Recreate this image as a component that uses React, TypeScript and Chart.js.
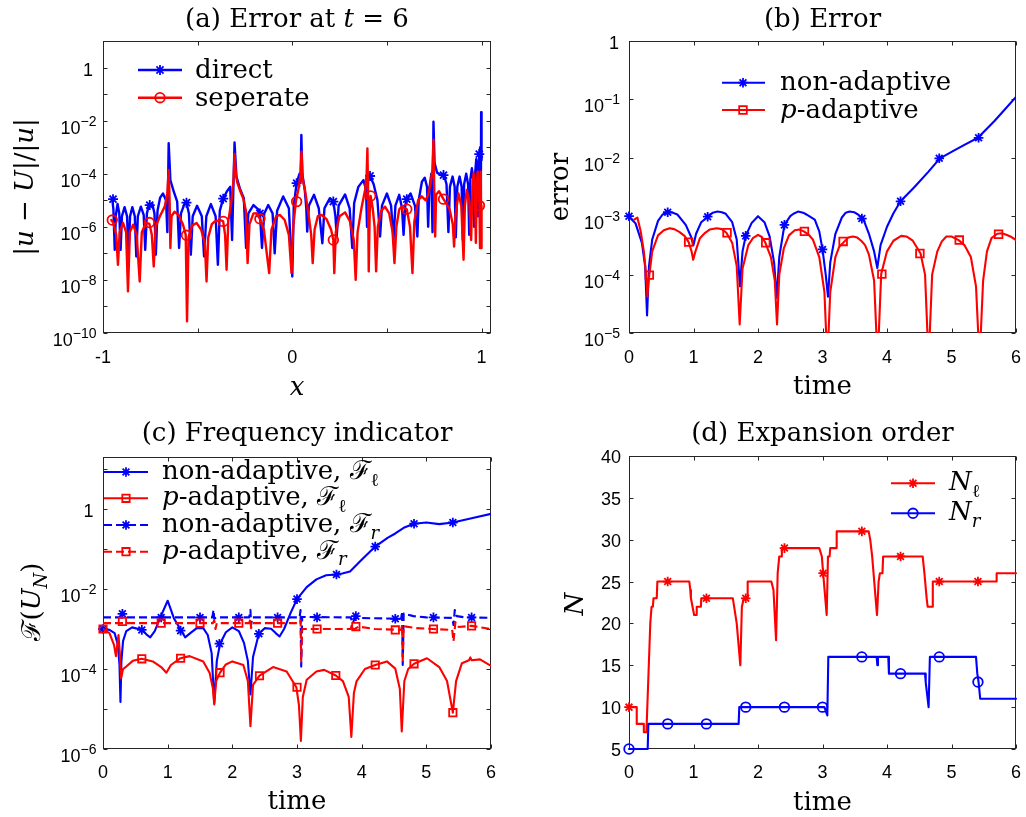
import React, { useEffect, useRef } from 'react';
import { Chart, registerables } from 'chart.js';
import { drawPoint } from 'chart.js/helpers';

Chart.register(...registerables);

const W = 1026;
const H = 817;
const BLUE = '#0000ff';
const RED = '#ff0000';
const AXIS = '#262626';
const SERIF = '"DejaVu Serif", "Liberation Serif", serif';
const SANS = '"Liberation Sans", Arial, sans-serif';

type P = [number, number];

// ---------------- Panel (a): error at t = 6 ----------------
const aXTicks = [-1, -0.5, 0, 0.5, 1];
const aXLabels = ['-1', '', '0', '', '1'];
const aYTicks = [1e-10, 1e-9, 1e-8, 1e-7, 1e-6, 1e-5, 1e-4, 1e-3, 1e-2, 1e-1, 1, 10];
const aYLabels = ['10^-10', '', '10^-8', '', '10^-6', '', '10^-4', '', '10^-2', '', '1', ''];

const aDirect: P[] = [
  [-0.951, 1.1e-5], [-0.945, 4.5e-6], [-0.938, 1.35e-7], [-0.932, 2.8e-6], [-0.923, 7.2e-6], [-0.914, 3.2e-6],
  [-0.907, 1.35e-7], [-0.9, 2.5e-6], [-0.886, 5.5e-6], [-0.873, 2.5e-6], [-0.865, 1.0e-7], [-0.857, 2.5e-6],
  [-0.845, 5.5e-6], [-0.832, 2.5e-6], [-0.824, 7.6e-8], [-0.816, 2.5e-6], [-0.8, 5.75e-6], [-0.785, 2.8e-6],
  [-0.777, 1.35e-7], [-0.768, 3.2e-6], [-0.757, 6.6e-6], [-0.74, 7.6e-6], [-0.728, 3.2e-6], [-0.721, 8.9e-8],
  [-0.712, 4.0e-6], [-0.698, 1.26e-5], [-0.683, 1.8e-5], [-0.667, 1.0e-5], [-0.66, 6.3e-7], [-0.653, 1.4e-3],
  [-0.644, 5.75e-5], [-0.626, 2.1e-5], [-0.608, 8.9e-6], [-0.598, 1.6e-7], [-0.588, 3.2e-6], [-0.57, 7.2e-6],
  [-0.559, 8.1e-6], [-0.546, 3.2e-6], [-0.536, 8.9e-8], [-0.526, 2.5e-6], [-0.503, 6.2e-6], [-0.478, 2.5e-6],
  [-0.466, 7.6e-8], [-0.454, 2.5e-6], [-0.43, 7.2e-6], [-0.405, 2.5e-6], [-0.393, 3.7e-8], [-0.383, 4.0e-6],
  [-0.365, 1.15e-5], [-0.345, 2.2e-5], [-0.328, 3.2e-5], [-0.318, 3.2e-7], [-0.305, 1.5e-3], [-0.295, 7.8e-5],
  [-0.277, 2.8e-5], [-0.256, 1.2e-5], [-0.244, 1.6e-7], [-0.232, 3.2e-6], [-0.205, 6.6e-6], [-0.18, 4.5e-6],
  [-0.171, 3.2e-6], [-0.16, 1.6e-7], [-0.148, 3.2e-6], [-0.127, 6.6e-6], [-0.104, 3.2e-6], [-0.093, 1.0e-7],
  [-0.08, 4.0e-6], [-0.048, 1.4e-5], [-0.018, 5.0e-6], [0.0, 1.35e-8], [0.008, 6.3e-6], [0.023, 4.4e-5],
  [0.038, 1.0e-4], [0.044, 5.0e-5], [0.048, 2.9e-3], [0.053, 1.0e-4], [0.066, 2.5e-5], [0.074, 5.0e-6],
  [0.079, 6.6e-7], [0.088, 6.3e-6], [0.115, 1.6e-5], [0.14, 5.0e-6], [0.159, 2.4e-7], [0.17, 5.0e-6],
  [0.199, 1.2e-5], [0.217, 8.9e-6], [0.228, 2.5e-6], [0.235, 4.3e-7], [0.245, 6.3e-6], [0.279, 1.66e-5],
  [0.303, 5.0e-6], [0.317, 1.6e-7], [0.327, 7.9e-6], [0.349, 3.2e-5], [0.376, 5.75e-5], [0.39, 2.5e-5],
  [0.395, 1.0e-6], [0.401, 7.9e-5], [0.411, 8.1e-5], [0.43, 4.0e-5], [0.45, 1.0e-5], [0.464, 4.3e-7],
  [0.474, 6.3e-6], [0.5, 1.8e-5], [0.522, 6.3e-6], [0.535, 3.2e-7], [0.545, 6.3e-6], [0.565, 1.6e-5],
  [0.58, 5.0e-6], [0.588, 5.0e-7], [0.597, 6.3e-6], [0.605, 1.1e-5], [0.625, 1.8e-5], [0.648, 6.3e-6],
  [0.661, 4.3e-7], [0.668, 1.0e-5], [0.685, 5.0e-5], [0.7, 7.1e-5], [0.712, 3.2e-5], [0.718, 1.0e-6],
  [0.724, 2.5e-5], [0.735, 1.0e-4], [0.741, 6.3e-7], [0.746, 9.1e-3], [0.752, 2.5e-4], [0.765, 1.1e-4],
  [0.785, 8.9e-5], [0.802, 8.9e-5], [0.815, 4.0e-5], [0.825, 6.3e-7], [0.833, 3.2e-5], [0.847, 7.8e-5],
  [0.858, 3.2e-5], [0.864, 4.0e-7], [0.872, 3.2e-5], [0.884, 7.8e-5], [0.895, 3.2e-5], [0.901, 3.2e-7],
  [0.908, 4.0e-5], [0.919, 1.0e-4], [0.929, 4.0e-5], [0.935, 5.0e-7], [0.941, 6.3e-5], [0.949, 1.6e-4],
  [0.956, 6.3e-5], [0.961, 1.0e-6], [0.966, 1.0e-4], [0.972, 3.5e-4], [0.977, 1.26e-4], [0.981, 2.5e-6],
  [0.985, 2.5e-4], [0.988, 5.5e-4], [0.993, 1.0e-3], [0.996, 3.2e-6], [0.998, 2.1e-2], [1.0, 3.2e-4],
];
const aDirectMarks: P[] = [
  [-0.947, 1.1e-5], [-0.753, 6.6e-6], [-0.559, 8.1e-6], [-0.365, 1.15e-5], [-0.171, 3.2e-6], [0.023, 4.4e-5],
  [0.217, 8.9e-6], [0.411, 8.2e-5], [0.605, 1.1e-5], [0.799, 8.9e-5], [0.988, 5.5e-4],
];
const aSeperate: P[] = [
  [-0.956, 1.8e-6], [-0.945, 1.4e-6], [-0.93, 5.0e-7], [-0.921, 3.7e-8], [-0.912, 6.3e-7], [-0.894, 1.4e-6],
  [-0.878, 6.3e-7], [-0.868, 3.7e-9], [-0.858, 6.3e-7], [-0.841, 1.2e-6], [-0.822, 5.0e-7], [-0.806, 8.7e-9],
  [-0.795, 6.3e-7], [-0.772, 1.45e-6], [-0.755, 1.3e-6], [-0.742, 5.0e-7], [-0.732, 3.2e-8], [-0.722, 1.0e-6],
  [-0.7, 2.45e-6], [-0.674, 5.75e-6], [-0.66, 1.8e-5], [-0.653, 1.4e-4], [-0.648, 1.0e-5], [-0.644, 1.6e-7],
  [-0.638, 2.5e-6], [-0.622, 3.7e-6], [-0.6, 2.8e-6], [-0.578, 1.26e-6], [-0.563, 5.0e-7], [-0.556, 2.75e-10],
  [-0.548, 4.0e-7], [-0.53, 1.1e-6], [-0.506, 1.4e-6], [-0.482, 7.9e-7], [-0.462, 2.5e-7], [-0.453, 8.7e-9],
  [-0.444, 4.0e-7], [-0.425, 1.26e-6], [-0.409, 1.6e-6], [-0.38, 1.8e-6], [-0.365, 1.6e-6], [-0.355, 5.0e-7],
  [-0.347, 2.4e-8], [-0.338, 1.6e-6], [-0.321, 1.0e-5], [-0.31, 6.3e-5], [-0.305, 5.5e-4], [-0.298, 1.0e-4],
  [-0.29, 4.5e-5], [-0.277, 2.45e-5], [-0.258, 1.1e-5], [-0.245, 4.0e-6], [-0.236, 4.3e-8], [-0.226, 1.26e-6],
  [-0.205, 3.2e-6], [-0.189, 3.2e-6], [-0.171, 2.0e-6], [-0.15, 7.9e-7], [-0.122, 1.8e-8], [-0.11, 7.9e-7],
  [-0.085, 2.5e-6], [-0.065, 2.8e-6], [-0.04, 1.8e-6], [-0.018, 5.0e-7], [-0.004, 1.8e-8], [0.005, 1.0e-6],
  [0.019, 8.9e-6], [0.035, 3.2e-5], [0.044, 1.0e-4], [0.049, 6.8e-4], [0.055, 6.3e-5], [0.067, 2.45e-5],
  [0.09, 1.8e-6], [0.1, 5.0e-7], [0.108, 4.3e-8], [0.118, 7.9e-7], [0.135, 2.5e-6], [0.155, 2.8e-6],
  [0.18, 2.0e-6], [0.205, 7.9e-7], [0.217, 3.2e-7], [0.222, 1.8e-8], [0.23, 6.3e-7], [0.25, 2.5e-6],
  [0.279, 3.5e-6], [0.305, 1.6e-6], [0.325, 3.2e-7], [0.335, 1.0e-8], [0.345, 6.3e-7], [0.367, 5.75e-6],
  [0.385, 2.5e-5], [0.393, 1.0e-4], [0.397, 8.9e-4], [0.401, 1.0e-5], [0.404, 2.1e-8], [0.409, 3.2e-6],
  [0.414, 1.45e-5], [0.425, 5.0e-6], [0.435, 1.0e-6], [0.443, 2.1e-8], [0.452, 1.0e-6], [0.47, 4.0e-6],
  [0.49, 5.75e-6], [0.512, 3.2e-6], [0.53, 6.3e-7], [0.54, 4.3e-8], [0.55, 1.0e-6], [0.565, 4.5e-6],
  [0.578, 5.75e-6], [0.605, 4.6e-6], [0.622, 1.0e-6], [0.635, 1.8e-8], [0.645, 1.6e-6], [0.665, 1.0e-5],
  [0.684, 1.4e-5], [0.705, 1.0e-5], [0.718, 1.6e-5], [0.73, 4.0e-5], [0.74, 1.26e-4], [0.746, 1.9e-3],
  [0.751, 1.0e-5], [0.755, 4.3e-7], [0.76, 1.6e-5], [0.775, 2.2e-5], [0.799, 1.1e-5], [0.83, 5.0e-6],
  [0.848, 1.26e-6], [0.855, 1.8e-7], [0.862, 2.5e-6], [0.878, 1.8e-5], [0.893, 6.3e-6], [0.905, 5.75e-8],
  [0.912, 6.3e-6], [0.922, 2.45e-5], [0.935, 1.0e-5], [0.945, 3.2e-7], [0.952, 3.2e-5], [0.958, 1.05e-4],
  [0.965, 2.5e-5], [0.97, 2.5e-7], [0.975, 5.0e-5], [0.98, 1.2e-4], [0.985, 3.2e-5], [0.989, 6.3e-6],
  [0.992, 1.6e-7], [0.995, 6.3e-5], [0.997, 1.2e-4], [0.999, 1.6e-7], [1.0, 6.3e-6],
];
const aSeperateMarks: P[] = [
  [-0.951, 1.8e-6], [-0.755, 1.45e-6], [-0.559, 4.8e-7], [-0.365, 1.6e-6], [-0.171, 2.0e-6], [0.023, 8.9e-6],
  [0.217, 3.2e-7], [0.414, 1.45e-5], [0.605, 4.6e-6], [0.799, 1.1e-5], [0.989, 6.3e-6],
];

// ---------------- Panel (b): error vs time ----------------
const timeTicks = [0, 1, 2, 3, 4, 5, 6];
const timeLabels = ['0', '1', '2', '3', '4', '5', '6'];
const bYTicks = [1e-5, 1e-4, 1e-3, 1e-2, 1e-1, 1];
const bYLabels = ['10^-5', '10^-4', '10^-3', '10^-2', '10^-1', '1'];

const bNonAdaptive: P[] = [
  [0, 9.8e-4], [0.1, 7.6e-4], [0.2, 3.5e-4], [0.25, 1.4e-4], [0.28, 2.0e-5], [0.31, 1.4e-4], [0.36, 4.0e-4],
  [0.45, 8.3e-4], [0.52, 1.07e-3], [0.6, 1.17e-3], [0.68, 1.15e-3], [0.75, 1.07e-3], [0.88, 7.1e-4],
  [0.96, 4.5e-4], [1.0, 3.2e-4], [1.04, 5.0e-4], [1.12, 7.9e-4], [1.22, 9.8e-4], [1.3, 1.15e-3], [1.37, 1.2e-3],
  [1.44, 1.17e-3], [1.5, 1.1e-3], [1.6, 7.9e-4], [1.67, 4.0e-4], [1.72, 6.3e-5], [1.76, 2.5e-4], [1.81, 4.6e-4],
  [1.9, 7.6e-4], [2.0, 1.0e-3], [2.1, 7.9e-4], [2.18, 4.5e-4], [2.25, 1.6e-4], [2.29, 4.0e-5], [2.33, 2.0e-4],
  [2.41, 7.1e-4], [2.5, 1.0e-3], [2.55, 1.1e-3], [2.62, 1.2e-3], [2.7, 1.15e-3], [2.75, 1.07e-3], [2.88, 8.7e-4],
  [2.95, 5.5e-4], [3.0, 2.7e-4], [3.05, 1.0e-4], [3.085, 4.2e-5], [3.12, 1.6e-4], [3.2, 5.0e-4], [3.3, 9.5e-4],
  [3.36, 1.15e-3], [3.42, 1.2e-3], [3.49, 1.17e-3], [3.55, 1.07e-3], [3.63, 9.1e-4], [3.72, 5.0e-4],
  [3.8, 2.5e-4], [3.85, 1.3e-4], [3.9, 3.2e-4], [4.0, 6.6e-4], [4.1, 1.12e-3], [4.21, 1.8e-3], [4.43, 3.2e-3],
  [4.64, 5.75e-3], [4.82, 9.8e-3], [5.05, 1.35e-2], [5.2, 1.66e-2], [5.41, 2.2e-2], [5.67, 4.3e-2], [6.0, 1.1e-1],
];
const bNonAdaptiveMarks: P[] = [
  [0, 1.0e-3], [0.6, 1.17e-3], [1.22, 9.8e-4], [1.81, 4.6e-4], [2.41, 7.1e-4], [3.0, 2.7e-4], [3.61, 9.1e-4],
  [4.21, 1.8e-3], [4.81, 9.8e-3], [5.42, 2.2e-2],
];
const bPAdaptive: P[] = [
  [0.08, 8.7e-4], [0.13, 9.5e-4], [0.18, 5.6e-4], [0.23, 2.5e-4], [0.265, 1.0e-4], [0.285, 4.2e-5], [0.3, 7.1e-5],
  [0.315, 9.8e-5], [0.36, 2.5e-4], [0.45, 4.7e-4], [0.54, 5.75e-4], [0.63, 6.2e-4], [0.7, 6.0e-4], [0.78, 5.4e-4],
  [0.86, 4.6e-4], [0.925, 3.6e-4], [0.97, 2.5e-4], [0.995, 1.8e-4], [1.03, 2.5e-4], [1.1, 4.2e-4], [1.18, 5.2e-4],
  [1.25, 5.9e-4], [1.36, 6.2e-4], [1.44, 6.0e-4], [1.51, 5.2e-4], [1.6, 3.5e-4], [1.67, 1.4e-4], [1.716, 1.4e-5],
  [1.76, 1.26e-4], [1.85, 3.2e-4], [1.92, 4.2e-4], [2.0, 4.8e-4], [2.06, 4.4e-4], [2.115, 3.5e-4], [2.2, 2.0e-4],
  [2.26, 7.9e-5], [2.295, 1.4e-5], [2.33, 1.0e-4], [2.4, 2.8e-4], [2.48, 4.7e-4], [2.57, 5.75e-4], [2.64, 5.9e-4],
  [2.71, 5.5e-4], [2.78, 4.9e-4], [2.85, 4.0e-4], [2.95, 2.0e-4], [3.03, 5.0e-5], [3.075, 3.2e-6], [3.12, 5.0e-5],
  [3.2, 2.0e-4], [3.26, 3.0e-4], [3.33, 3.6e-4], [3.4, 4.3e-4], [3.47, 4.5e-4], [3.54, 4.3e-4], [3.6, 3.8e-4],
  [3.66, 3.2e-4], [3.72, 2.2e-4], [3.8, 7.9e-5], [3.855, 3.2e-6], [3.91, 1.02e-4], [4.0, 2.5e-4], [4.1, 3.8e-4],
  [4.22, 4.6e-4], [4.3, 4.5e-4], [4.4, 3.8e-4], [4.52, 2.3e-4], [4.59, 1.0e-4], [4.645, 3.2e-6], [4.7, 1.0e-4],
  [4.78, 2.5e-4], [4.85, 3.7e-4], [4.92, 4.5e-4], [5.0, 4.5e-4], [5.11, 3.9e-4], [5.2, 3.2e-4], [5.3, 2.0e-4],
  [5.38, 6.3e-5], [5.435, 3.2e-6], [5.49, 7.9e-5], [5.55, 2.5e-4], [5.62, 4.2e-4], [5.71, 5.0e-4], [5.78, 5.1e-4],
  [5.85, 4.8e-4], [5.93, 4.4e-4], [6.0, 3.9e-4],
];
const bPAdaptiveMarks: P[] = [
  [0.315, 9.8e-5], [0.925, 3.6e-4], [1.52, 5.2e-4], [2.12, 3.5e-4], [2.72, 5.5e-4], [3.32, 3.7e-4],
  [3.92, 1.02e-4], [4.51, 2.3e-4], [5.12, 3.9e-4], [5.73, 4.9e-4],
];

// ---------------- Panel (c): frequency indicator ----------------
const cYTicks = [1e-6, 1e-5, 1e-4, 1e-3, 1e-2, 1e-1, 1, 10];
const cYLabels = ['10^-6', '', '10^-4', '', '10^-2', '', '1', ''];

const cNonAdaptiveL: P[] = [
  [0, 1.0e-3], [0.1, 9.5e-4], [0.18, 7.9e-4], [0.23, 4.0e-4], [0.255, 1.26e-4], [0.27, 1.5e-5], [0.285, 1.6e-4],
  [0.31, 5.0e-4], [0.36, 8.9e-4], [0.45, 1.1e-3], [0.61, 9.5e-4], [0.68, 7.1e-4], [0.73, 6.2e-4], [0.8, 8.9e-4],
  [0.9, 2.2e-3], [1.0, 5.1e-3], [1.1, 1.8e-3], [1.21, 9.1e-4], [1.27, 6.2e-4], [1.35, 7.9e-4], [1.45, 1.05e-3],
  [1.55, 1.05e-3], [1.62, 7.1e-4], [1.68, 2.5e-4], [1.72, 1.4e-5], [1.76, 1.6e-4], [1.81, 4.3e-4], [1.9, 8.3e-4],
  [2.0, 1.1e-3], [2.1, 8.9e-4], [2.18, 4.5e-4], [2.24, 1.6e-4], [2.28, 2.3e-5], [2.32, 2.0e-4], [2.41, 7.6e-4],
  [2.5, 1.05e-3], [2.6, 1.02e-3], [2.67, 7.9e-4], [2.73, 6.5e-4], [2.8, 1.0e-3], [2.9, 2.5e-3], [3.0, 5.6e-3],
  [3.15, 1.12e-2], [3.3, 1.74e-2], [3.45, 2.2e-2], [3.61, 2.3e-2], [3.7, 2.45e-2], [3.82, 2.75e-2], [4.0, 5.4e-2],
  [4.21, 1.15e-1], [4.4, 1.9e-1], [4.52, 2.45e-1], [4.65, 3.4e-1], [4.81, 4.3e-1], [5.0, 4.6e-1], [5.2, 4.2e-1],
  [5.41, 4.6e-1], [5.7, 5.9e-1], [6.0, 7.6e-1],
];
const cNonAdaptiveLMarks: P[] = [
  [0, 1.0e-3], [0.6, 9.5e-4], [1.2, 9.1e-4], [1.8, 4.3e-4], [2.41, 7.6e-4], [3.0, 5.6e-3], [3.61, 2.3e-2],
  [4.21, 1.15e-1], [4.81, 4.3e-1], [5.41, 4.6e-1],
];
const cPAdaptiveL: P[] = [
  [0, 1.0e-3], [0.1, 7.9e-4], [0.17, 4.0e-4], [0.2, 2.1e-4], [0.22, 4.0e-4], [0.24, 7.1e-4], [0.26, 2.5e-4],
  [0.28, 5.9e-5], [0.31, 1.0e-4], [0.36, 1.15e-4], [0.46, 1.6e-4], [0.6, 1.8e-4], [0.77, 1.55e-4], [0.9, 1.12e-4],
  [0.98, 8.1e-5], [1.05, 1.26e-4], [1.2, 1.86e-4], [1.34, 2.1e-4], [1.55, 1.55e-4], [1.65, 7.9e-5], [1.7, 3.2e-5],
  [1.72, 1.3e-5], [1.75, 5.0e-5], [1.81, 8.1e-5], [1.9, 1.3e-4], [2.0, 1.55e-4], [2.17, 1.26e-4], [2.24, 5.0e-5],
  [2.28, 3.7e-6], [2.32, 4.0e-5], [2.42, 6.8e-5], [2.63, 1.12e-4], [2.84, 8.7e-5], [2.99, 3.5e-5], [3.03, 1.26e-5],
  [3.06, 1.6e-6], [3.09, 2.0e-5], [3.15, 5.4e-5], [3.3, 8.7e-5], [3.42, 9.5e-5], [3.6, 6.9e-5], [3.71, 5.0e-5],
  [3.8, 2.0e-5], [3.84, 2.0e-6], [3.88, 2.5e-5], [3.92, 4.9e-5], [4.05, 1.0e-4], [4.21, 1.26e-4], [4.39, 1.55e-4],
  [4.52, 1.02e-4], [4.59, 3.2e-5], [4.62, 2.75e-6], [4.66, 5.0e-5], [4.72, 1.0e-4], [4.81, 1.35e-4],
  [5.01, 1.86e-4], [5.2, 1.12e-4], [5.32, 5.0e-5], [5.41, 8.1e-6], [5.46, 5.0e-5], [5.55, 1.4e-4],
  [5.66, 1.66e-4], [5.68, 1.95e-4], [5.7, 1.66e-4], [5.83, 1.74e-4], [6.0, 1.2e-4],
];
const cPAdaptiveLMarks: P[] = [
  [0, 1.0e-3], [0.6, 1.8e-4], [1.2, 1.86e-4], [1.81, 8.1e-5], [2.42, 6.8e-5], [3.0, 3.5e-5], [3.6, 6.9e-5],
  [4.21, 1.26e-4], [4.81, 1.35e-4], [5.41, 8.1e-6],
];
const cNonAdaptiveR: P[] = [
  [0, 1.95e-3], [0.28, 1.95e-3], [1.69, 1.95e-3], [1.71, 3.0e-3], [1.72, 1.8e-3], [1.75, 1.95e-3],
  [2.26, 1.95e-3], [2.28, 3.0e-3], [2.29, 1.26e-3], [2.31, 1.95e-3], [3.04, 1.95e-3], [3.055, 3.0e-3],
  [3.065, 1.15e-4], [3.08, 2.0e-3], [3.83, 1.95e-3], [3.86, 1.4e-3], [3.9, 1.9e-3], [4.61, 1.8e-3],
  [4.625, 2.75e-3], [4.635, 1.26e-4], [4.65, 2.45e-3], [4.8, 2.1e-3], [5.0, 1.95e-3], [5.4, 1.9e-3],
  [5.42, 1.26e-3], [5.44, 3.0e-3], [5.47, 2.1e-3], [5.6, 1.95e-3], [6.0, 1.9e-3],
];
const cNonAdaptiveRMarks: P[] = [
  [0.3, 2.4e-3], [0.9, 1.95e-3], [1.5, 1.95e-3], [2.1, 1.95e-3], [2.7, 1.95e-3], [3.31, 1.95e-3], [3.91, 2.1e-3],
  [4.52, 1.8e-3], [5.11, 1.95e-3], [5.7, 1.95e-3],
];
const cPAdaptiveR: P[] = [
  [0, 1.4e-3], [1.7, 1.4e-3], [1.72, 1.66e-3], [1.74, 1.0e-3], [1.76, 1.4e-3], [2.26, 1.4e-3], [2.28, 1.8e-3],
  [2.29, 1.05e-3], [2.31, 1.4e-3], [3.04, 1.4e-3], [3.055, 1.66e-3], [3.065, 1.55e-4], [3.08, 1.0e-3],
  [3.83, 1.0e-3], [3.85, 1.3e-3], [3.87, 9.5e-4], [3.95, 1.15e-3], [4.2, 1.0e-3], [4.61, 9.5e-4],
  [4.625, 1.26e-3], [4.635, 1.4e-4], [4.65, 1.17e-3], [4.85, 1.05e-3], [5.1, 1.0e-3], [5.4, 9.5e-4],
  [5.42, 4.9e-4], [5.45, 1.5e-3], [5.5, 1.12e-3], [5.7, 1.2e-3], [6.0, 1.0e-3],
];
const cPAdaptiveRMarks: P[] = [
  [0.3, 1.55e-3], [0.9, 1.4e-3], [1.5, 1.4e-3], [2.1, 1.4e-3], [2.7, 1.4e-3], [3.31, 1.0e-3], [3.91, 1.15e-3],
  [4.52, 9.5e-4], [5.11, 1.0e-3], [5.7, 1.2e-3],
];

// ---------------- Panel (d): expansion order ----------------
const dYTicks = [5, 10, 15, 20, 25, 30, 35, 40];
const dYLabels = ['5', '10', '15', '20', '25', '30', '35', '40'];

const dNl: P[] = [
  [0, 10], [0.12, 10], [0.12, 8], [0.23, 8], [0.23, 7], [0.27, 7], [0.33, 20], [0.35, 22], [0.37, 22], [0.38, 23],
  [0.43, 23], [0.44, 25], [0.935, 25], [0.95, 24], [0.96, 23], [0.985, 22], [1.01, 21], [1.04, 21], [1.05, 22],
  [1.115, 22], [1.12, 23], [1.61, 23], [1.63, 22], [1.67, 20], [1.726, 15], [1.75, 22], [1.78, 23], [1.835, 23],
  [1.84, 25], [2.207, 25], [2.24, 24], [2.28, 18], [2.305, 26], [2.33, 28], [2.36, 28], [2.37, 29], [2.95, 29],
  [2.99, 28], [3.01, 26], [3.065, 21], [3.085, 28], [3.11, 28], [3.12, 29], [3.21, 29], [3.22, 31], [3.716, 31],
  [3.74, 30], [3.77, 28], [3.845, 21], [3.87, 25], [3.89, 26], [3.93, 26], [3.94, 28], [4.553, 28], [4.58, 26],
  [4.615, 23], [4.63, 22], [4.7, 22], [4.71, 25], [5.69, 25], [5.7, 26], [6.0, 26],
];
const dNlMarks: P[] = [
  [0, 10], [0.6, 25], [1.2, 23], [1.81, 23], [2.41, 29], [3.01, 26], [3.61, 31], [4.21, 28], [4.81, 25], [5.41, 25],
];
const dNr: P[] = [
  [0, 5], [0.29, 5], [0.3, 8], [1.7, 8], [1.71, 10], [3.03, 10], [3.075, 9], [3.09, 16], [3.84, 16], [3.85, 15],
  [3.86, 16], [4.02, 16], [4.03, 14], [4.59, 14], [4.6, 13], [4.645, 10], [4.665, 16], [5.38, 16], [5.4, 14],
  [5.42, 13], [5.445, 11], [6.0, 11],
];
const dNrMarks: P[] = [
  [0, 5], [0.6, 8], [1.2, 8], [1.81, 10], [2.41, 10], [3.0, 10], [3.61, 16], [4.21, 14], [4.81, 16], [5.41, 13],
];

// ---------------- rendering helpers ----------------
type Part = { t: string; i?: boolean; sub?: boolean };
type Series = {
  data: P[];
  marks: P[];
  color: string;
  dash?: number[];
  width: number;
  marker: string;
  mr: number;
};
type LegendRow = { y: number; s: number; text: Part[] };
type Spec = {
  id: string;
  area: { l: number; t: number; r: number; b: number };
  xMin: number;
  xMax: number;
  yLog: boolean;
  yMin: number;
  yMax: number;
  lineClip: boolean;
  xTicks: number[];
  xLabels: string[];
  yTicks: number[];
  yLabels: string[];
  expGap: number;
  plainGap: number;
  plainDy: number;
  xLabelDy: number;
  title: Part[];
  titleY: number;
  xTitle: Part[];
  xTitleY: number;
  yTitle: Part[];
  yTitleX: number;
  yTitleY: number;
  legend: { x0: number; x1: number; xm: number; xt: number; dy: number; rows: LegendRow[] };
  series: Series[];
};

const FS = 26;
const MBW = 1.8;

function fontOf(p: Part, size: number) {
  const s = p.sub ? Math.round(size * 0.7) : size;
  return `${p.i ? 'italic ' : ''}${s}px ${SERIF}`;
}
function richWidth(ctx: CanvasRenderingContext2D, parts: Part[], size: number) {
  let w = 0;
  for (const p of parts) {
    ctx.font = fontOf(p, size);
    w += ctx.measureText(p.t).width;
  }
  return w;
}
function drawRich(
  ctx: CanvasRenderingContext2D,
  parts: Part[],
  x: number,
  y: number,
  size: number,
  align: 'left' | 'center',
) {
  const w = richWidth(ctx, parts, size);
  let cx = align === 'left' ? x : x - w / 2;
  ctx.textAlign = 'left';
  ctx.textBaseline = 'alphabetic';
  ctx.fillStyle = '#000';
  for (const p of parts) {
    ctx.font = fontOf(p, size);
    ctx.fillText(p.t, cx, y + (p.sub ? size * 0.25 : 0));
    cx += ctx.measureText(p.t).width;
  }
}

function makePlugin(spec: Spec) {
  return {
    id: 'decor_' + spec.id,
    beforeDatasetsDraw(chart: any) {
      const ctx: CanvasRenderingContext2D = chart.ctx;
      const { left, right, top, bottom } = chart.chartArea;
      const xs = chart.scales.x;
      const ys = chart.scales.y;
      ctx.save();
      ctx.strokeStyle = AXIS;
      ctx.lineWidth = 1;
      ctx.setLineDash([]);
      const L = Math.round(left) + 0.5;
      const R = Math.round(right) - 0.5;
      const T = Math.round(top) + 0.5;
      const B = Math.round(bottom) - 0.5;
      ctx.strokeRect(L, T, R - L, B - T);
      const TL = 4;
      ctx.beginPath();
      spec.xTicks.forEach((v) => {
        const px = Math.round(xs.getPixelForValue(v)) + 0.5;
        ctx.moveTo(px, B);
        ctx.lineTo(px, B - TL);
        ctx.moveTo(px, T);
        ctx.lineTo(px, T + TL);
      });
      spec.yTicks.forEach((v) => {
        const py = Math.round(ys.getPixelForValue(v)) + 0.5;
        ctx.moveTo(L, py);
        ctx.lineTo(L + TL, py);
        ctx.moveTo(R, py);
        ctx.lineTo(R - TL, py);
      });
      ctx.stroke();
      ctx.restore();
    },
    afterDraw(chart: any) {
      const ctx: CanvasRenderingContext2D = chart.ctx;
      const { left, right, bottom } = chart.chartArea;
      const xs = chart.scales.x;
      const ys = chart.scales.y;
      ctx.save();
      // tick labels
      ctx.fillStyle = '#000';
      ctx.textBaseline = 'alphabetic';
      spec.xTicks.forEach((v, i) => {
        const lab = spec.xLabels[i];
        if (!lab) return;
        const px = xs.getPixelForValue(v);
        ctx.font = `18px ${SANS}`;
        ctx.textAlign = 'center';
        ctx.fillText(lab, px, bottom + spec.xLabelDy);
      });
      spec.yTicks.forEach((v, i) => {
        const lab = spec.yLabels[i];
        if (!lab) return;
        const py = ys.getPixelForValue(v);
        if (lab.includes('^')) {
          const [base, e] = lab.split('^');
          const exp = e.replace('-', '\u2212');
          ctx.font = `18px ${SANS}`;
          const wb = ctx.measureText(base).width;
          ctx.font = `14px ${SANS}`;
          const we = ctx.measureText(exp).width;
          const xr = left - spec.expGap;
          ctx.textAlign = 'left';
          ctx.font = `18px ${SANS}`;
          ctx.fillText(base, xr - we - wb, py + 13);
          ctx.font = `14px ${SANS}`;
          ctx.fillText(exp, xr - we, py + 5);
        } else {
          ctx.font = `18px ${SANS}`;
          ctx.textAlign = 'right';
          ctx.fillText(lab, left - spec.plainGap, py + spec.plainDy);
        }
      });

      // titles
      const cxp = (left + right) / 2;
      drawRich(ctx, spec.title, cxp, spec.titleY, FS, 'center');
      drawRich(ctx, spec.xTitle, cxp, spec.xTitleY, FS, 'center');
      ctx.save();
      ctx.translate(spec.yTitleX, spec.yTitleY);
      ctx.rotate(-Math.PI / 2);
      drawRich(ctx, spec.yTitle, 0, 0, FS, 'center');
      ctx.restore();

      // legend
      const lg = spec.legend;
      lg.rows.forEach((row) => {
        const s = spec.series[row.s];
        ctx.strokeStyle = s.color;
        ctx.lineWidth = s.width;
        ctx.setLineDash(s.dash || []);
        ctx.lineCap = 'butt';
        ctx.beginPath();
        ctx.moveTo(lg.x0, row.y);
        ctx.lineTo(lg.x1, row.y);
        ctx.stroke();
        ctx.setLineDash([]);
        ctx.lineWidth = MBW;
        ctx.fillStyle = 'rgba(0,0,0,0)';
        drawPoint(ctx, { pointStyle: s.marker as any, radius: s.mr, rotation: 0, borderWidth: MBW } as any, lg.xm, row.y);
        drawRich(ctx, row.text, lg.xt, row.y + lg.dy, FS, 'left');
      });
      ctx.restore();
    },
  };
}

function buildConfig(spec: Spec): any {
  const datasets: any[] = [];
  spec.series.forEach((s, k) => {
    const line: any = {
      data: s.data.map(([x, y]) => ({ x, y })),
      borderColor: s.color,
      borderWidth: s.width,
      borderDash: s.dash || [],
      borderJoinStyle: 'round',
      borderCapStyle: s.dash ? 'butt' : 'round',
      pointRadius: 0,
      pointHoverRadius: 0,
      fill: false,
      tension: 0,
      order: 100 - 2 * k,
    };
    if (!spec.lineClip) line.clip = false;
    datasets.push(line);
    datasets.push({
      data: s.marks.map(([x, y]) => ({ x, y })),
      showLine: false,
      pointStyle: s.marker,
      pointRadius: s.mr,
      pointHoverRadius: s.mr,
      pointBorderColor: s.color,
      pointBackgroundColor: 'rgba(0,0,0,0)',
      pointBorderWidth: MBW,
      clip: false,
      order: 99 - 2 * k,
    });
  });
  return {
    type: 'line',
    data: { datasets },
    options: {
      responsive: false,
      animation: false,
      devicePixelRatio: 1,
      events: [],
      layout: {
        autoPadding: false,
        padding: { left: spec.area.l, top: spec.area.t, right: W - spec.area.r, bottom: H - spec.area.b },
      },
      plugins: { legend: { display: false }, tooltip: { enabled: false }, title: { display: false } },
      scales: {
        x: { type: 'linear', min: spec.xMin, max: spec.xMax, display: false },
        y: { type: spec.yLog ? 'logarithmic' : 'linear', min: spec.yMin, max: spec.yMax, display: false },
      },
    },
    plugins: [makePlugin(spec)],
  };
}

const PANELS: Spec[] = [
  {
    id: 'a',
    area: { l: 103, t: 41, r: 491, b: 333 },
    xMin: -1,
    xMax: 1.05,
    yLog: true,
    yMin: 1e-10,
    yMax: 10,
    lineClip: true,
    xTicks: aXTicks,
    xLabels: aXLabels,
    yTicks: aYTicks,
    yLabels: aYLabels,
    expGap: 6.5,
    plainGap: 10,
    plainDy: 8,
    xLabelDy: 30,
    title: [{ t: '(a) Error at ' }, { t: 't', i: true }, { t: ' = 6' }],
    titleY: 27,
    xTitle: [{ t: 'x', i: true }],
    xTitleY: 395,
    yTitle: [{ t: '|' }, { t: 'u', i: true }, { t: ' \u2212 ' }, { t: 'U', i: true }, { t: '|/|' }, { t: 'u', i: true }, { t: '|' }],
    yTitleX: 33,
    yTitleY: 187,
    legend: {
      x0: 138, x1: 182, xm: 160, xt: 195, dy: 8,
      rows: [
        { y: 70, s: 0, text: [{ t: 'direct' }] },
        { y: 97.7, s: 1, text: [{ t: 'seperate' }] },
      ],
    },
    series: [
      { data: aDirect, marks: aDirectMarks, color: BLUE, width: 2.4, marker: 'star', mr: 5 },
      { data: aSeperate, marks: aSeperateMarks, color: RED, width: 2.4, marker: 'circle', mr: 4.8 },
    ],
  },
  {
    id: 'b',
    area: { l: 629, t: 41, r: 1016, b: 333 },
    xMin: 0,
    xMax: 6,
    yLog: true,
    yMin: 1e-5,
    yMax: 1,
    lineClip: true,
    xTicks: timeTicks,
    xLabels: timeLabels,
    yTicks: bYTicks,
    yLabels: bYLabels,
    expGap: 9,
    plainGap: 10,
    plainDy: 7.5,
    xLabelDy: 30,
    title: [{ t: '(b) Error' }],
    titleY: 27,
    xTitle: [{ t: 'time' }],
    xTitleY: 394,
    yTitle: [{ t: 'error' }],
    yTitleX: 568,
    yTitleY: 187,
    legend: {
      x0: 722, x1: 765, xm: 743, xt: 780, dy: 7.5,
      rows: [
        { y: 82.7, s: 0, text: [{ t: 'non-adaptive' }] },
        { y: 110, s: 1, text: [{ t: 'p', i: true }, { t: '-adaptive' }] },
      ],
    },
    series: [
      { data: bNonAdaptive, marks: bNonAdaptiveMarks, color: BLUE, width: 2.1, marker: 'star', mr: 4.8 },
      { data: bPAdaptive, marks: bPAdaptiveMarks, color: RED, width: 2.1, marker: 'rect', mr: 5.4 },
    ],
  },
  {
    id: 'c',
    area: { l: 103, t: 457, r: 491, b: 749 },
    xMin: 0,
    xMax: 6,
    yLog: true,
    yMin: 1e-6,
    yMax: 20,
    lineClip: true,
    xTicks: timeTicks,
    xLabels: timeLabels,
    yTicks: cYTicks,
    yLabels: cYLabels,
    expGap: 6.5,
    plainGap: 9.5,
    plainDy: 7.5,
    xLabelDy: 29,
    title: [{ t: '(c) Frequency indicator' }],
    titleY: 441,
    xTitle: [{ t: 'time' }],
    xTitleY: 809,
    yTitle: [{ t: '\u2131(' }, { t: 'U', i: true }, { t: 'N', i: true, sub: true }, { t: ')' }],
    yTitleX: 40,
    yTitleY: 602,
    legend: {
      x0: 104, x1: 148, xm: 126, xt: 162, dy: 7,
      rows: [
        { y: 472, s: 0, text: [{ t: 'non-adaptive, \u2131' }, { t: '\u2113', sub: true }] },
        { y: 498.3, s: 1, text: [{ t: 'p', i: true }, { t: '-adaptive, \u2131' }, { t: '\u2113', sub: true }] },
        { y: 525, s: 2, text: [{ t: 'non-adaptive, \u2131' }, { t: 'r', i: true, sub: true }] },
        { y: 551.7, s: 3, text: [{ t: 'p', i: true }, { t: '-adaptive, \u2131' }, { t: 'r', i: true, sub: true }] },
      ],
    },
    series: [
      { data: cNonAdaptiveL, marks: cNonAdaptiveLMarks, color: BLUE, width: 2.1, marker: 'star', mr: 4.8 },
      { data: cPAdaptiveL, marks: cPAdaptiveLMarks, color: RED, width: 2.1, marker: 'rect', mr: 5.2 },
      { data: cNonAdaptiveR, marks: cNonAdaptiveRMarks, color: BLUE, width: 2.1, dash: [8, 4], marker: 'star', mr: 4.8 },
      { data: cPAdaptiveR, marks: cPAdaptiveRMarks, color: RED, width: 2.1, dash: [8, 4], marker: 'rect', mr: 5.2 },
    ],
  },
  {
    id: 'd',
    area: { l: 629, t: 456, r: 1016, b: 749 },
    xMin: 0,
    xMax: 6,
    yLog: false,
    yMin: 5,
    yMax: 40,
    lineClip: false,
    xTicks: timeTicks,
    xLabels: timeLabels,
    yTicks: dYTicks,
    yLabels: dYLabels,
    expGap: 8,
    plainGap: 8,
    plainDy: 7,
    xLabelDy: 28.5,
    title: [{ t: '(d) Expansion order' }],
    titleY: 441,
    xTitle: [{ t: 'time' }],
    xTitleY: 810,
    yTitle: [{ t: 'N', i: true }],
    yTitleX: 583,
    yTitleY: 604,
    legend: {
      x0: 891, x1: 935, xm: 913, xt: 949, dy: 7,
      rows: [
        { y: 483.3, s: 0, text: [{ t: 'N', i: true }, { t: '\u2113', sub: true }] },
        { y: 513.3, s: 1, text: [{ t: 'N', i: true }, { t: 'r', i: true, sub: true }] },
      ],
    },
    series: [
      { data: dNl, marks: dNlMarks, color: RED, width: 2.1, marker: 'star', mr: 4.8 },
      { data: dNr, marks: dNrMarks, color: BLUE, width: 2.1, marker: 'circle', mr: 4.8 },
    ],
  },
];

function Panel({ spec }: { spec: Spec }) {
  const ref = useRef<HTMLCanvasElement>(null);
  useEffect(() => {
    if (!ref.current) return;
    const chart = new Chart(ref.current, buildConfig(spec));
    return () => chart.destroy();
  }, [spec]);
  return (
    <canvas
      ref={ref}
      width={W}
      height={H}
      style={{ position: 'absolute', left: 0, top: 0, width: W, height: H }}
    />
  );
}

export default function App() {
  return (
    <div style={{ position: 'fixed', left: 0, top: 0, width: W, height: H, background: '#fff' }}>
      {PANELS.map((p) => (
        <Panel key={p.id} spec={p} />
      ))}
    </div>
  );
}
